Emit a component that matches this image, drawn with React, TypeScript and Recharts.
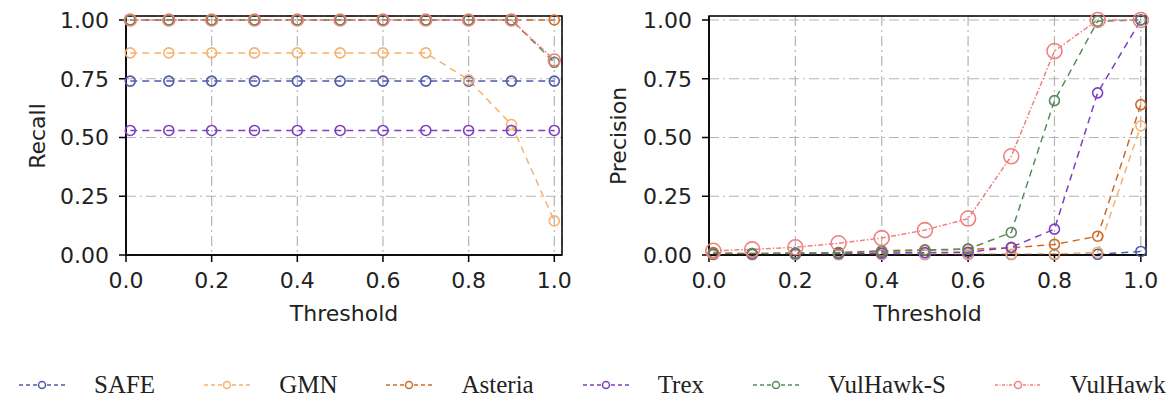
import React from 'react';
import { LineChart, Line, XAxis, YAxis, CartesianGrid, ReferenceArea } from 'recharts';

const thresholds = [0.01, 0.1, 0.2, 0.3, 0.4, 0.5, 0.6, 0.7, 0.8, 0.9, 1.0];
const xTicks = [0, 0.2, 0.4, 0.6, 0.8, 1.0];
const yTicks = [0, 0.25, 0.5, 0.75, 1.0];

const methods = ['SAFE', 'GMN', 'Asteria', 'Trex', 'VulHawk-S', 'VulHawk'];

// recall per threshold
const recallSafe = [0.74, 0.74, 0.74, 0.74, 0.74, 0.74, 0.74, 0.74, 0.74, 0.74, 0.74];
const recallGmn = [0.86, 0.86, 0.86, 0.86, 0.86, 0.86, 0.86, 0.86, 0.745, 0.555, 0.145];
const recallAsteria = [1, 1, 1, 1, 1, 1, 1, 1, 1, 1, 1];
const recallTrex = [0.53, 0.53, 0.53, 0.53, 0.53, 0.53, 0.53, 0.53, 0.53, 0.53, 0.53];
const recallVulHawkS = [1, 1, 1, 1, 1, 1, 1, 1, 1, 1, 0.82];
const recallVulHawk = [1, 1, 1, 1, 1, 1, 1, 1, 1, 1, 0.83];

// precision per threshold
const precSafe = [0.002, 0.002, 0.002, 0.002, 0.002, 0.002, 0.002, 0.002, 0.002, 0.003, 0.015];
const precGmn = [0.003, 0.003, 0.003, 0.003, 0.003, 0.003, 0.003, 0.003, 0.004, 0.012, 0.55];
const precAsteria = [0.01, 0.006, 0.008, 0.01, 0.018, 0.022, 0.025, 0.03, 0.045, 0.08, 0.64];
const precTrex = [0.004, 0.004, 0.005, 0.006, 0.008, 0.01, 0.012, 0.033, 0.11, 0.69, 1.0];
const precVulHawkS = [0.005, 0.006, 0.008, 0.01, 0.015, 0.02, 0.025, 0.096, 0.657, 0.995, 1.0];
const precVulHawk = [0.018, 0.024, 0.033, 0.05, 0.072, 0.106, 0.155, 0.42, 0.868, 1.0, 1.0];

const COLORS: Record<string, string> = {
  SAFE: '#4f5bab',
  GMN: '#f5b26e',
  Asteria: '#cc6a28',
  Trex: '#7d3fc0',
  'VulHawk-S': '#5a8a5c',
  VulHawk: '#f08080',
};
const DASH: Record<string, string> = {
  SAFE: '7 5',
  GMN: '7 5',
  Asteria: '7 5',
  Trex: '7 5',
  'VulHawk-S': '7 5',
  VulHawk: '5 2 1.5 2',
};

const recallData = thresholds.map((t, i) => ({
  t,
  SAFE: recallSafe[i],
  GMN: recallGmn[i],
  Asteria: recallAsteria[i],
  Trex: recallTrex[i],
  'VulHawk-S': recallVulHawkS[i],
  VulHawk: recallVulHawk[i],
}));

const precisionData = thresholds.map((t, i) => ({
  t,
  SAFE: precSafe[i],
  GMN: precGmn[i],
  Asteria: precAsteria[i],
  Trex: precTrex[i],
  'VulHawk-S': precVulHawkS[i],
  VulHawk: precVulHawk[i],
}));

const TICK_FONT = { fontFamily: 'DejaVu Sans', fontSize: 22, fill: '#222' };

function Panel({ data, yWidth, right, xMax, yMax, bigRed }: any) {
  return (
    <LineChart width={yWidth === 126 ? 580 : 588} height={340} data={data}
      margin={{ top: 16, right, left: 0, bottom: 15 }}>
      <CartesianGrid stroke="#b4b4b4" strokeDasharray="10 4 2 4" strokeWidth={1.2} />
      <XAxis dataKey="t" type="number" domain={[0, xMax]} ticks={xTicks} height={70}
        tickFormatter={(v: number) => v.toFixed(1)} tick={TICK_FONT}
        tickSize={7} tickMargin={10} axisLine={{ stroke: '#000', strokeWidth: 1.5 }}
        tickLine={{ stroke: '#000', strokeWidth: 1.5 }}
        label={{ value: 'Threshold', position: 'insideBottom', offset: 4, style: { ...TICK_FONT, fill: '#222' } }} />
      <YAxis type="number" domain={[0, yMax]} ticks={yTicks} width={yWidth}
        tickFormatter={(v: number) => v.toFixed(2)} tick={TICK_FONT}
        tickSize={7} tickMargin={10} axisLine={{ stroke: '#000', strokeWidth: 1.5 }}
        tickLine={{ stroke: '#000', strokeWidth: 1.5 }} />
      <ReferenceArea x1={0} x2={xMax} y1={0} y2={yMax} fill="none" stroke="#000" strokeWidth={1.5} />
      {methods.map((m) => (
        <Line key={m} dataKey={m} stroke={COLORS[m]} strokeWidth={1.5} strokeDasharray={DASH[m]}
          isAnimationActive={false}
          dot={{ r: m === 'VulHawk' ? (bigRed ? 7.5 : 6) : 5, stroke: COLORS[m], strokeWidth: 1.6, fill: 'none', strokeDasharray: '' }} />
      ))}
    </LineChart>
  );
}

function LegendIcon({ color, dash }: { color: string; dash: string }) {
  return (
    <svg width={48} height={14} style={{ marginRight: 28 }}>
      <line x1={1} y1={7} x2={47} y2={7} stroke={color} strokeWidth={1.5} strokeDasharray={dash} />
      <circle cx={24} cy={7} r={3.5} stroke={color} strokeWidth={1.5} fill="#fff" />
    </svg>
  );
}

export default function App() {
  return (
    <div style={{ position: 'absolute', left: 0, top: 0, width: 1168, height: 406, background: '#fff' }}>
      <div style={{ position: 'absolute', left: 0, top: 0 }}>
        <Panel data={recallData} yWidth={126} right={18} xMax={1.018} yMax={1.017} bigRed={false} />
      </div>
      <div style={{ position: 'absolute', left: 580, top: 0 }}>
        <Panel data={precisionData} yWidth={129} right={22} xMax={1.012} yMax={1.017} bigRed={true} />
      </div>
      <svg width={1168} height={300} style={{ position: 'absolute', left: 0, top: 0, pointerEvents: 'none' }}>
        <text transform="translate(37,136) rotate(-90)" textAnchor="middle" dominantBaseline="central"
          style={TICK_FONT}>Recall</text>
        <text transform="translate(618,136) rotate(-90)" textAnchor="middle" dominantBaseline="central"
          style={TICK_FONT}>Precision</text>
      </svg>
      <div style={{ position: 'absolute', left: 18, top: 370, height: 30, display: 'flex', alignItems: 'center',
        gap: 48, fontFamily: 'Liberation Serif', fontSize: 25, color: '#222' }}>
        {methods.map((m) => (
          <div key={m} style={{ display: 'flex', alignItems: 'center' }}>
            <LegendIcon color={COLORS[m]} dash={m === 'VulHawk' ? '3 1.5 1 1.5' : '4 3'} />
            <span>{m}</span>
          </div>
        ))}
      </div>
    </div>
  );
}
